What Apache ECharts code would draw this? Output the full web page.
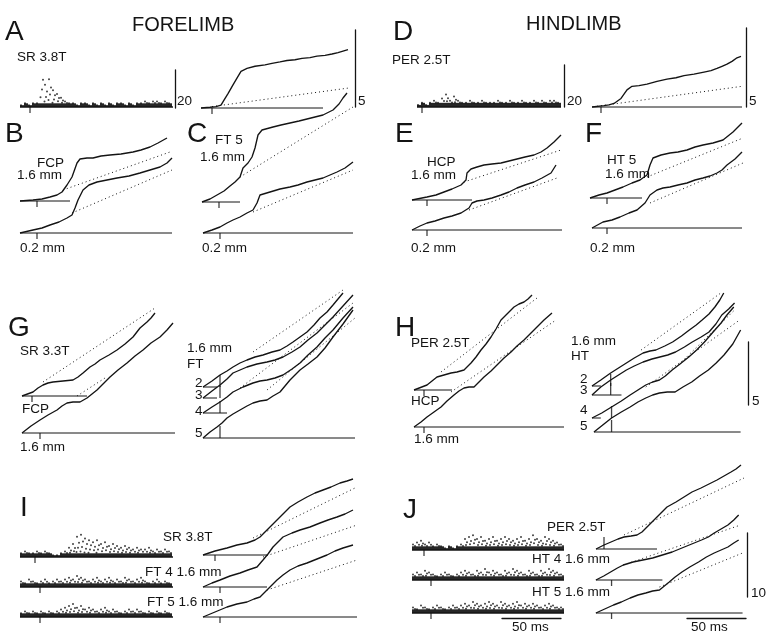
<!DOCTYPE html>
<html>
<head>
<meta charset="utf-8">
<script src="https://cdn.jsdelivr.net/npm/echarts/dist/echarts.min.js"></script>
<style>
html,body{margin:0;padding:0;background:#fff}
#chart{width:768px;height:636px}
</style>
</head>
<body>
<div id="chart"></div>
<script>
// x = time in bins (0 = stimulus), y = cumulative count (display units)
var cumA = [[-11,0],[-2,1],[4,2],[9,4],[12,11],[16,20],[21,32],[26,44],[29,51],[35,55],[43,58],[53,60],[60,62],[68,64],[75,66],[83,67],[90,69],[98,70],[105,72],[113,73],[120,75],[126,77],[131,79],[136,81]];
var dotA = [[0,2],[138,28]];

var cumB16 = [[-17,0],[-4,1],[5,2],[13,4],[20,6],[25,9],[30,16],[35,24],[40,38],[43,42],[50,43],[56,43],[64,45],[73,46],[84,47],[96,49],[104,51],[113,54],[121,58],[130,63]];
var dotB16 = [[26,11],[133,49]];
var cumB02 = [[-17,0],[-4,3],[5,5],[13,8],[22,11],[30,15],[35,18],[38,25],[41,33],[46,43],[52,48],[60,51],[70,53],[80,55],[92,57],[103,60],[113,63],[123,66],[130,70],[135,75]];
var dotB02 = [[35,20],[135,63]];

var cumC16 = [[-17,0],[-9,3],[-2,7],[5,11],[11,16],[16,20],[21,25],[24,34],[29,39],[33,45],[36,54],[39,67],[43,72],[54,75],[62,77],[71,79],[80,81],[88,83],[96,85],[104,87],[114,92],[120,98],[124,104],[128,109]];
var dotC16 = [[21,25],[134,95]];
var cumC02 = [[-17,0],[-8,3],[0,6],[7,10],[13,13],[20,16],[27,20],[33,23],[37,30],[40,38],[50,41],[60,44],[70,46],[78,48],[87,51],[95,53],[103,55],[110,58],[117,61],[125,65],[133,71]];
var dotC02 = [[33,21],[133,63]];

var cumD = [[-9,0],[3,2],[8,3],[13,5],[20,12],[26,24],[31,29],[38,30],[46,32],[56,36],[66,39],[75,41],[83,44],[93,46],[103,49],[110,51],[116,54],[121,57],[126,60],[131,64],[136,69],[140,71]];
var dotD = [[-4,1],[141,29]];

var cumE16 = [[-15,0],[0,3],[9,5],[17,8],[25,11],[34,15],[39,20],[40,27],[44,31],[50,33],[57,35],[65,36],[74,37],[82,39],[90,41],[98,43],[107,45],[114,48],[120,52],[127,58],[134,65]];
var dotE16 = [[37,18],[134,50]];
var cumE02 = [[-15,0],[-7,4],[0,7],[8,9],[17,12],[25,14],[34,17],[42,22],[45,27],[50,29],[57,30],[65,32],[74,35],[82,38],[90,42],[98,45],[107,48],[115,52],[124,57],[129,65]];
var dotE02 = [[42,20],[130,52]];

var cumF16 = [[-17,0],[-8,3],[0,5],[8,8],[16,11],[25,15],[33,18],[40,23],[43,33],[46,40],[54,43],[63,45],[71,46],[80,48],[88,51],[96,53],[106,55],[116,58],[121,62],[126,66],[131,71],[135,75]];
var dotF16 = [[40,21],[136,60]];
var cumF02 = [[-15,0],[-4,6],[5,8],[13,11],[22,15],[30,18],[38,25],[43,33],[50,38],[56,40],[63,41],[71,43],[80,45],[88,48],[96,50],[103,52],[110,55],[115,58],[120,63],[128,69],[135,76]];
var dotF02 = [[43,25],[136,65]];

var cumGsr = [[-10,0],[1,4],[6,8],[11,11],[16,13],[21,14],[31,15],[41,16],[46,19],[51,23],[58,29],[63,32],[68,36],[77,41],[85,46],[93,52],[101,59],[108,68],[115,74],[119,78],[123,83]];
var dotGsr = [[11,14],[123,88]];
var cumGfcp = [[-18,0],[-9,7],[0,13],[8,18],[17,23],[22,27],[27,30],[33,31],[40,31],[47,35],[52,39],[57,43],[63,49],[70,56],[78,63],[87,70],[95,77],[103,83],[111,90],[120,96],[127,103],[133,110]];
var dotGfcp = [[37,37],[65,55]];

var cumGft2 = [[-17,0],[-8,6],[0,12],[7,16],[13,20],[20,24],[27,27],[35,30],[43,32],[52,35],[60,37],[67,41],[73,45],[80,50],[87,55],[94,62],[100,69],[107,75],[113,82],[118,88],[123,94]];
var dotGft2 = [[33,35],[123,97]];
var cumGft3 = [[-17,0],[-8,7],[0,13],[7,19],[13,25],[20,28],[27,31],[37,34],[47,36],[55,38],[63,41],[72,46],[80,51],[88,58],[97,65],[105,73],[113,81],[123,92],[133,103]];
var cumGft4 = [[-17,0],[-8,6],[0,11],[7,16],[13,21],[23,26],[33,30],[40,32],[47,33],[55,35],[63,38],[72,44],[80,50],[88,58],[97,66],[105,75],[113,83],[123,95],[133,106]];
var dotGft4 = [[20,25],[133,110]];
var cumGft5 = [[-17,0],[-10,6],[-3,11],[2,15],[7,20],[13,24],[20,28],[27,32],[33,35],[40,37],[47,38],[53,42],[60,46],[65,52],[70,58],[75,63],[80,68],[88,74],[97,81],[105,90],[113,101],[123,114],[133,128]];
var dotGft5 = [[47,48],[135,120]];

var cumHper = [[-10,0],[3,5],[8,9],[13,13],[20,15],[27,17],[33,18],[40,20],[47,27],[52,33],[57,40],[62,46],[67,53],[72,61],[77,70],[83,76],[90,83],[95,86],[100,88],[104,91],[108,95]];
var dotHper = [[17,18],[113,92]];
var cumHhcp = [[-10,0],[-3,5],[3,10],[10,15],[17,20],[23,26],[30,32],[35,36],[40,39],[45,40],[50,40],[55,45],[60,50],[67,56],[73,62],[80,69],[87,75],[93,81],[100,87],[107,94],[113,100],[120,107],[128,114]];
var dotHhcp = [[27,35],[132,107]];

var cumHht2 = [[-19,0],[-10,6],[0,13],[8,18],[16,23],[24,28],[33,33],[40,35],[46,36],[55,40],[63,44],[72,50],[80,56],[87,61],[93,66],[100,72],[106,79],[111,86],[115,93]];
var dotHht2 = [[31,36],[112,93]];
var cumHht3 = [[-19,0],[-10,8],[0,15],[8,20],[16,25],[24,29],[33,33],[42,36],[50,38],[58,40],[66,43],[75,48],[83,53],[92,58],[100,63],[107,71],[113,80],[120,86],[126,92]];
var dotHht3 = [[69,30],[126,85]];
var cumHht4 = [[-20,0],[-10,5],[0,11],[10,17],[19,23],[27,28],[35,33],[42,36],[49,38],[55,42],[62,48],[70,54],[79,61],[87,68],[95,76],[103,85],[112,95],[118,103],[125,111]];
var dotHht4 = [[35,31],[131,98]];
var cumHht5 = [[-18,0],[-9,7],[0,14],[10,20],[19,25],[27,30],[35,34],[42,37],[49,39],[57,40],[65,40],[73,45],[82,50],[90,56],[99,62],[107,69],[115,77],[124,88],[132,102]];

var cumIsr = [[-12,0],[0,4],[12,7],[22,10],[32,12],[40,15],[45,18],[52,25],[57,30],[62,35],[68,41],[75,48],[83,53],[92,58],[100,62],[108,65],[116,68],[125,72],[132,74],[138,76]];
var dotIsr = [[38,17],[142,68]];
var cumIft4 = [[-17,0],[-8,4],[0,7],[10,11],[20,14],[28,17],[37,20],[43,27],[48,33],[53,40],[58,45],[63,50],[72,54],[80,57],[90,60],[100,64],[108,67],[117,70],[125,73],[133,77]];
var dotIft4 = [[43,30],[137,62]];
var cumIft5 = [[-17,0],[-5,5],[7,10],[17,13],[27,15],[34,18],[40,20],[47,27],[52,32],[57,37],[63,42],[70,47],[78,51],[87,54],[97,58],[107,62],[115,66],[123,69],[133,72]];
var dotIft5 = [[47,27],[137,57]];

var cumJper = [[-8,0],[0,4],[7,7],[14,10],[20,12],[27,13],[33,14],[38,17],[43,22],[48,27],[53,32],[58,37],[63,42],[72,47],[80,52],[88,57],[97,61],[105,65],[113,69],[120,73],[127,77],[132,80],[137,84]];
var dotJper = [[20,14],[140,71]];
var cumJht4 = [[-16,0],[-8,4],[-1,8],[6,12],[12,15],[22,18],[32,20],[42,22],[52,25],[62,28],[72,32],[82,36],[92,40],[99,43],[105,47],[112,51],[119,55],[125,60],[130,65]];
var dotJht4 = [[12,15],[132,55]];
var cumJht5 = [[-16,0],[-7,4],[2,8],[10,11],[19,15],[27,18],[35,20],[42,22],[49,23],[54,27],[59,31],[65,36],[72,41],[80,46],[89,51],[97,56],[105,60],[112,63],[119,66],[125,70],[130,73]];
var dotJht5 = [[49,26],[134,60]];

// peristimulus histograms, spikes per bin (4-bin wide)
var histA = [1,2,1,2,2,21,12,15,9,7,5,3,2,2,1,2,2,1,2,1,2,1,2,1,2,2,1,2,1,2,2,3,2,3,3,2,3,2];
var histD = [1,2,1,2,3,2,4,6,3,5,3,2,2,3,2,2,3,2,2,2,3,2,2,3,2,2,3,2,2,3,2,3,2,3,3,2];
var histIsr = [2,3,2,2,3,2,3,2,1,1,2,3,5,7,11,12,10,9,8,9,7,8,6,7,6,5,6,5,4,5,4,4,5,3,4,3,4,3];
var histIft4 = [3,2,4,3,2,3,4,2,3,4,3,4,5,4,6,5,4,3,4,5,3,4,5,3,4,3,5,4,3,4,5,3,2,3,4,2,3,2];
var histIft5 = [2,3,2,3,2,3,2,3,2,3,4,5,6,7,5,6,4,5,4,3,4,5,3,4,3,2,3,4,3,4,3,2,3,2,3,2,3,2];
var histJper = [3,4,5,3,4,2,3,2,1,2,1,2,3,6,7,8,6,7,5,6,7,5,6,7,6,5,6,7,5,6,8,6,5,7,6,5,4,3];
var histJht4 = [3,4,3,5,4,3,2,3,4,3,2,3,4,5,4,3,5,4,6,4,5,4,3,5,4,6,5,4,3,5,4,3,5,4,6,5,4,3];
var histJht5 = [3,2,4,3,2,3,4,3,2,3,4,3,4,5,4,6,5,4,5,6,5,4,6,5,4,5,6,4,5,4,5,4,3,4,5,4,3,3];

// calibration bars
var barCounts = [20, 5, 5, 10];
var barTime = 50;

var INK = '#141414';
var FONT = '"Liberation Sans", Arial, sans-serif';
var grids = [], xAxes = [], yAxes = [], series = [];

function addGrid(left, top, width, height, xr, yr) {
	var i = grids.length;
	grids.push({left: left, top: top, width: width, height: height, show: false});
	xAxes.push({type: 'value', gridIndex: i, min: xr[0], max: xr[1], show: false});
	yAxes.push({type: 'value', gridIndex: i, min: yr[0], max: yr[1], show: false});
	return i;
}

function line(i, data, style) {
	var ls = {color: INK, width: 1.2};
	for (var k in style) ls[k] = style[k];
	series.push({type: 'line', xAxisIndex: i, yAxisIndex: i, data: data, symbol: 'none',
		clip: false, silent: true, lineStyle: ls});
}

function tickMark(i, up, len) {
	series.push({type: 'scatter', xAxisIndex: i, yAxisIndex: i, data: [[0, 0]], symbol: 'rect',
		symbolSize: [1.3, len], symbolOffset: [0, up ? -len / 2 : len / 2],
		itemStyle: {color: INK}, silent: true, clip: false});
}

var CUM_H = 150;
function cumTrace(tickX, baseY, curve, dotted, baseEnd, up) {
	var i = addGrid(tickX - 20, baseY - CUM_H, 180, CUM_H, [-20, 160], [0, CUM_H]);
	line(i, [[curve[0][0], 0], [baseEnd, 0]], {width: 1});
	line(i, curve, {width: 1.35});
	if (dotted) line(i, dotted, {width: 1, type: [1, 3]});
	tickMark(i, up, up ? 12 : 6);
}

// dot-display histogram: dense band at the bottom, dots scattered up to each bin's count
var BIN = 4;
function histTrace(tickX, baseY, startX, endX, counts, px20) {
	var i = addGrid(tickX - 20, baseY - px20, 200, px20, [-20, 180], [0, 20]);
	var t0 = startX - tickX;
	var band = [], dots = [];
	counts.forEach(function (c, k) {
		var x = t0 + BIN * k;
		band.push([x + BIN / 2, Math.min(c, 2)]);
		dots.push([x + 1, c]);
		if (c > 2) dots.push([x + 3, c * 0.7]);
		if (c > 4) dots.push([x + 2, c * 0.45]);
		if (c > 8) dots.push([x + 0.5, c * 0.25]);
	});
	series.push({type: 'bar', xAxisIndex: i, yAxisIndex: i, data: band, barWidth: BIN,
		itemStyle: {color: '#262626'}, silent: true});
	series.push({type: 'scatter', xAxisIndex: i, yAxisIndex: i, data: dots, symbolSize: 2,
		itemStyle: {color: INK}, silent: true});
	line(i, [[t0, 0], [endX - tickX, 0]], {width: 1.5});
	tickMark(i, false, 6);
}

function vBar(x, bottomY, len, val) {
	var i = addGrid(x, bottomY - len, 10, len, [0, 1], [0, val]);
	yAxes[i] = {type: 'value', gridIndex: i, min: 0, max: val, position: 'left',
		axisLine: {show: true, onZero: false, lineStyle: {color: INK, width: 1.3}},
		axisTick: {show: false}, axisLabel: {show: false}, splitLine: {show: false}};
}

function hBar(xLeft, y, len, val) {
	var i = addGrid(xLeft, y - 10, len, 10, [0, val], [0, 1]);
	xAxes[i] = {type: 'value', gridIndex: i, min: 0, max: val, position: 'bottom',
		axisLine: {show: true, onZero: false, lineStyle: {color: INK, width: 1.3}},
		axisTick: {show: false}, axisLabel: {show: false}, splitLine: {show: false}};
}

// row 1
histTrace(30, 107, 20, 173, histA, 37);
cumTrace(212, 108, cumA, dotA, 111, false);
histTrace(422, 107, 417, 561, histD, 42);
cumTrace(601, 107, cumD, dotD, 141, false);
// row 2
cumTrace(37, 201, cumB16, dotB16, 33, false);
cumTrace(37, 233, cumB02, dotB02, 135, false);
cumTrace(219, 202, cumC16, dotC16, 21, false);
cumTrace(220, 233, cumC02, dotC02, 133, false);
cumTrace(427, 200, cumE16, dotE16, 45, false);
cumTrace(427, 230, cumE02, dotE02, 135, false);
cumTrace(607, 198, cumF16, dotF16, 35, false);
cumTrace(607, 228, cumF02, dotF02, 135, false);
// row 3
cumTrace(32, 396, cumGsr, dotGsr, 55, false);
cumTrace(40, 433, cumGfcp, dotGfcp, 135, false);
cumTrace(220, 387, cumGft2, dotGft2, -3, true);
cumTrace(220, 398, cumGft3, null, -3, true);
cumTrace(220, 413, cumGft4, dotGft4, 7, true);
cumTrace(220, 438, cumGft5, dotGft5, 135, true);
cumTrace(424, 390, cumHper, dotHper, 28, false);
cumTrace(424, 427, cumHhcp, dotHhcp, 140, false);
cumTrace(611, 386, cumHht2, dotHht2, -10, true);
cumTrace(611, 395, cumHht3, dotHht3, 11, true);
cumTrace(612, 418, cumHht4, dotHht4, -11, true);
cumTrace(612, 432, cumHht5, null, 132, true);
// row 4
histTrace(35, 557, 20, 173, histIsr, 37);
histTrace(40, 587, 20, 173, histIft4, 37);
histTrace(40, 617, 20, 173, histIft5, 37);
cumTrace(215, 555, cumIsr, dotIsr, 52, false);
cumTrace(220, 587, cumIft4, dotIft4, 47, false);
cumTrace(220, 617, cumIft5, dotIft5, 137, false);
histTrace(424, 550, 412, 564, histJper, 37);
histTrace(431, 580, 412, 564, histJht4, 37);
histTrace(431, 613, 412, 564, histJht5, 37);
cumTrace(604, 549, cumJper, dotJper, 53, true);
cumTrace(612, 580, cumJht4, dotJht4, 52, false);
cumTrace(612, 613, cumJht5, dotJht5, 134, false);

// calibration bars
vBar(175, 108, 38, barCounts[0]);
vBar(355, 107, 77, barCounts[1]);
vBar(564, 107, 42, barCounts[0]);
vBar(746, 107, 79, barCounts[1]);
vBar(748, 405, 63, barCounts[2]);
vBar(747, 597, 64, barCounts[3]);
hBar(502, 618, 59, barTime);
hBar(687, 618, 59, barTime);

// text: [label, x, y, size]
var labels = [
	['FORELIMB', 132, 25, 20], ['HINDLIMB', 526, 24, 20],
	['A', 5, 32, 28], ['SR 3.8T', 17, 57, 13.5], ['20', 177, 101, 13.5], ['5', 358, 101, 13.5],
	['D', 393, 32, 28], ['PER 2.5T', 392, 60, 13.5], ['20', 567, 101, 13.5], ['5', 749, 101, 13.5],
	['B', 5, 134, 28], ['FCP', 37, 163, 13.5], ['1.6 mm', 17, 175, 13.5], ['0.2 mm', 20, 248, 13.5],
	['C', 187, 134, 28], ['FT 5', 215, 140, 13.5], ['1.6 mm', 200, 157, 13.5], ['0.2 mm', 202, 248, 13.5],
	['E', 395, 134, 28], ['HCP', 427, 162, 13.5], ['1.6 mm', 411, 175, 13.5], ['0.2 mm', 411, 248, 13.5],
	['F', 585, 134, 28], ['HT 5', 607, 160, 13.5], ['1.6 mm', 605, 174, 13.5], ['0.2 mm', 590, 248, 13.5],
	['G', 8, 328, 28], ['SR 3.3T', 20, 351, 13.5], ['FCP', 22, 409, 13.5], ['1.6 mm', 20, 447, 13.5],
	['1.6 mm', 187, 348, 13.5], ['FT', 187, 364, 13.5], ['2', 195, 383, 13.5], ['3', 195, 395, 13.5],
	['4', 195, 411, 13.5], ['5', 195, 433, 13.5],
	['H', 395, 328, 28], ['PER 2.5T', 411, 343, 13.5], ['HCP', 411, 401, 13.5], ['1.6 mm', 414, 439, 13.5],
	['1.6 mm', 571, 341, 13.5], ['HT', 571, 356, 13.5], ['2', 580, 379, 13.5], ['3', 580, 390, 13.5],
	['4', 580, 410, 13.5], ['5', 580, 426, 13.5], ['5', 752, 401, 13.5],
	['I', 20, 508, 28], ['SR 3.8T', 163, 537, 13.5], ['FT 4 1.6 mm', 145, 572, 13.5], ['FT 5 1.6 mm', 147, 602, 13.5],
	['J', 403, 510, 28], ['PER 2.5T', 547, 527, 13.5], ['HT 4 1.6 mm', 532, 559, 13.5], ['HT 5 1.6 mm', 532, 592, 13.5],
	['10', 751, 593, 13.5], ['50 ms', 512, 627, 13.5], ['50 ms', 691, 627, 13.5]
];

var elements = labels.map(function (l) {
	return {type: 'text', x: l[1], y: l[2], silent: true,
		style: {text: l[0], fill: INK, font: l[3] + 'px ' + FONT, verticalAlign: 'middle'}};
});

var chart = echarts.init(document.getElementById('chart'));
chart.setOption({
	animation: false,
	backgroundColor: '#fff',
	grid: grids,
	xAxis: xAxes,
	yAxis: yAxes,
	series: series,
	graphic: {elements: elements}
});
</script>
</body>
</html>
